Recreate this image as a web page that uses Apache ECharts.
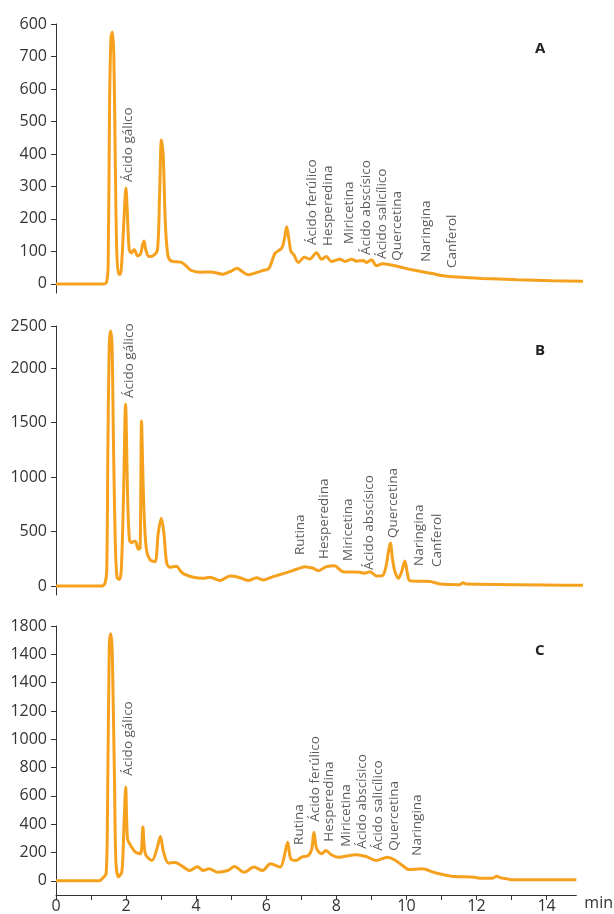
<!DOCTYPE html>
<html>
<head>
<meta charset="utf-8">
<script src="https://cdn.jsdelivr.net/npm/echarts@6.0.0/dist/echarts.min.js"></script>
<style>
  html, body { margin: 0; padding: 0; background: #fff; }
  #chart { width: 614px; height: 914px; }
</style>
</head>
<body>
<div id="chart"></div>
<script>
// chromatogram traces, [time (min), signal]
var traceA = [[0,0],[1.3,0],[1.42,4],[1.47,60],[1.51,560],[1.55,760],[1.59,775],[1.63,700],[1.67,380],[1.71,110],[1.76,30],[1.81,30],[1.86,80],[1.92,210],[1.97,295],[2.01,220],[2.06,108],[2.12,95],[2.2,106],[2.3,86],[2.38,92],[2.44,120],[2.48,132],[2.53,105],[2.62,84],[2.75,88],[2.86,105],[2.92,280],[2.97,443],[3.02,400],[3.08,190],[3.15,90],[3.25,70],[3.4,68],[3.52,67],[3.65,57],[3.8,42],[4.05,36],[4.35,37],[4.7,30],[4.95,40],[5.1,48],[5.25,38],[5.42,28],[5.6,33],[5.8,40],[6.0,48],[6.17,94],[6.36,110],[6.44,140],[6.5,176],[6.56,140],[6.62,100],[6.7,90],[6.83,66],[7.0,82],[7.15,76],[7.34,96],[7.48,76],[7.62,84],[7.76,69],[8.0,76],[8.14,69],[8.33,76],[8.47,70],[8.66,72],[8.75,66],[8.89,74],[9.03,56],[9.2,62],[9.45,58],[9.7,52],[10.06,43],[10.6,32],[10.9,25],[11.3,21],[12,17],[13,13],[14,10],[14.85,8]];
var traceB = [[0,0],[1.29,0],[1.38,25],[1.43,150],[1.46,1200],[1.5,2200],[1.54,2340],[1.58,2200],[1.62,1300],[1.67,400],[1.72,80],[1.79,60],[1.84,150],[1.9,790],[1.96,1667],[2.02,790],[2.07,420],[2.13,397],[2.2,410],[2.25,405],[2.32,337],[2.37,349],[2.41,1514],[2.45,1000],[2.49,600],[2.55,330],[2.65,239],[2.79,223],[2.88,483],[2.97,621],[3.04,485],[3.12,208],[3.21,171],[3.3,177],[3.4,180],[3.5,140],[3.6,110],[3.87,80],[4.15,70],[4.34,80],[4.62,49],[4.9,92],[5.14,80],[5.42,49],[5.65,76],[5.84,55],[6.12,85],[6.5,122],[6.78,153],[7.01,177],[7.25,162],[7.39,140],[7.62,177],[7.86,186],[7.95,162],[8.09,131],[8.56,126],[8.7,117],[8.85,131],[9.03,92],[9.2,95],[9.3,180],[9.36,300],[9.42,395],[9.48,250],[9.55,131],[9.65,70],[9.74,131],[9.83,229],[9.9,120],[9.97,49],[10.25,43],[10.54,40],[10.82,18],[11.38,12],[11.47,30],[11.57,18],[14.85,6]];
var traceC = [[0,0],[1.24,0],[1.33,19],[1.43,49],[1.47,509],[1.52,1650],[1.56,1745],[1.6,1650],[1.63,1300],[1.67,700],[1.71,134],[1.78,28],[1.88,64],[1.94,391],[1.99,662],[2.04,297],[2.13,250],[2.27,203],[2.41,191],[2.48,380],[2.55,191],[2.74,144],[2.88,226],[2.98,313],[3.07,203],[3.21,125],[3.4,130],[3.59,106],[3.82,73],[4.04,100],[4.2,73],[4.37,85],[4.62,61],[4.9,73],[5.09,101],[5.37,61],[5.65,97],[5.89,73],[6.12,120],[6.4,97],[6.52,179],[6.61,273],[6.7,155],[6.85,144],[7.01,167],[7.2,179],[7.3,226],[7.36,344],[7.44,226],[7.58,191],[7.7,214],[7.86,184],[8.05,167],[8.56,184],[8.85,172],[9.13,144],[9.46,167],[9.69,144],[9.88,110],[10.07,80],[10.44,85],[10.82,57],[11.29,33],[11.94,26],[12.08,19],[12.46,19],[12.58,33],[12.69,21],[12.88,14],[13.02,7],[14.85,7]];

// compound labels: [name, time, signal at the foot of the label]
var annA = [['Ácido gálico',2.03,314],['Ácido ferúlico',7.21,120],['Hesperedina',7.66,117],['Miricetina',8.25,123],['Ácido abscísico',8.73,89],['Ácido salicílico',9.18,77],['Quercetina',9.61,71],['Naringina',10.42,68],['Canferol',11.15,49]];
var annB = [['Ácido gálico',2.05,1725],['Rutina',6.87,284],['Hesperedina',7.55,248],['Miricetina',8.23,229],['Ácido abscísico',8.82,147],['Quercetina',9.5,440],['Naringina',10.23,183],['Canferol',10.73,174]];
var annC = [['Ácido gálico',2.06,742],['Rutina',6.93,254],['Ácido ferúlico',7.41,417],['Hesperedina',7.8,276],['Miricetina',8.28,240],['Ácido abscísico',8.73,226],['Ácido salicílico',9.18,212],['Quercetina',9.66,212],['Naringina',10.31,177]];

// y ticks as printed (the figure has some odd labels, kept as is)
var tickValsA = [0,100,200,300,400,500,600,700,800];
var tickTextA = ['0','100','200','300','400','500','600','700','600'];
var tickValsB = [0,500,1000,1500,2000,2385];
var tickTextB = ['0','500','1000','1500','2000','2500'];
var tickValsC = [0,200,400,600,800,1000,1200,1400,1600,1800];
var tickTextC = ['0','200','400','600','800','1000','1200','1400','1400','1800'];

var panelNames = ['A','B','C'];
var xTickLabels = ['0','2','4','6','8','10','12','14'];

var chart = echarts.init(document.getElementById('chart'));
var orange = '#f6a11e';
var ink = '#333';
var font = '"Open Sans", sans-serif';

var panels = [
  {trace: traceA, ann: annA, vals: tickValsA, text: tickTextA, min: -28, max: 800, top: 24, height: 269},
  {trace: traceB, ann: annB, vals: tickValsB, text: tickTextB, min: -83, max: 2385, top: 326, height: 269},
  {trace: traceC, ann: annC, vals: tickValsC, text: tickTextC, min: -100, max: 1800, top: 626, height: 270}
];

var grid = [], xAxis = [], yAxis = [], series = [], title = [];
panels.forEach(function (p, i) {
  var last = i === panels.length - 1;
  grid.push({left: 56, width: 527, top: p.top, height: p.height});
  xAxis.push({
    type: 'value', gridIndex: i, min: 0, max: 14.85, interval: 1,
    show: last,
    name: last ? 'min' : '',
    nameLocation: 'end', nameGap: 8,
    nameTextStyle: {color: ink, fontSize: 16, fontFamily: font, verticalAlign: 'top', padding: [0, 0, 0, 0]},
    axisLine: {onZero: false, lineStyle: {color: ink, width: 1}},
    axisTick: {length: 5, lineStyle: {color: ink}},
    splitLine: {show: false},
    axisLabel: {
      color: ink, fontSize: 16, fontFamily: font, margin: 3, showMaxLabel: false,
      formatter: function (v) { return xTickLabels.indexOf(String(v)) >= 0 ? String(v) : ''; }
    }
  });
  yAxis.push({
    type: 'value', gridIndex: i, min: p.min, max: p.max,
    axisLine: {show: true, onZero: false, lineStyle: {color: ink, width: 1}},
    axisTick: {show: true, length: 5, customValues: p.vals, lineStyle: {color: ink}},
    splitLine: {show: false},
    axisLabel: {
      color: ink, fontSize: 16, fontFamily: font, margin: 9,
      customValues: p.vals,
      formatter: function (v) {
        var k = p.vals.indexOf(v);
        return k >= 0 ? p.text[k] : '';
      }
    }
  });
  series.push({
    type: 'line', xAxisIndex: i, yAxisIndex: i,
    data: p.trace, showSymbol: false, smooth: 0.3,
    lineStyle: {color: orange, width: 3},
    silent: true, z: 3
  });
  series.push({
    type: 'scatter', xAxisIndex: i, yAxisIndex: i,
    symbolSize: 0, silent: true, z: 4,
    data: p.ann.map(function (a) { return {name: a[0], value: [a[1], a[2]]}; }),
    label: {
      show: true, formatter: '{b}', position: 'inside',
      rotate: 90, align: 'left', verticalAlign: 'middle',
      color: ink, fontSize: 13.5, fontFamily: font
    }
  });
  title.push({
    text: panelNames[i], left: 535, top: p.top + 17, padding: 0,
    textStyle: {fontSize: 15, fontWeight: 'bold', color: '#222', fontFamily: font}
  });
});

chart.setOption({
  animation: false,
  backgroundColor: '#fff',
  title: title,
  grid: grid,
  xAxis: xAxis,
  yAxis: yAxis,
  series: series
});
</script>
</body>
</html>
